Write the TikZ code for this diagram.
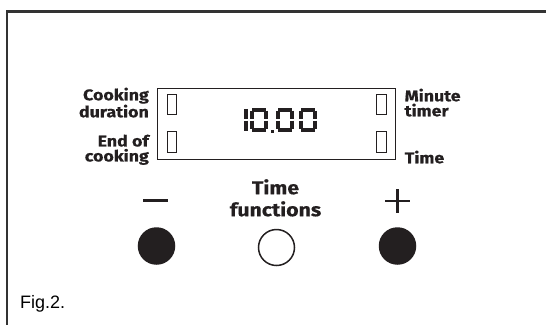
\documentclass[tikz,border=0pt]{standalone}
\usepackage{fontspec}
\newfontfamily\labfont{Fira Sans}[FakeStretch=1.15, FakeBold=0.5]
\newfontfamily\figfont{Liberation Sans}
\definecolor{ink}{HTML}{231F20}
\definecolor{framegray}{HTML}{333333}
\tikzset{
  lab/.style={font=\labfont\bfseries\fontsize{15.5}{15}\selectfont, text=ink, inner sep=0pt},
  smallbox/.style={draw=ink, line width=0.8pt, minimum width=9.5pt, minimum height=20.5pt, inner sep=0pt},
  seg/.style={line width=3.6pt, ink, line cap=butt},
  segzero/.pic={
    \draw[seg] (2.2,1.8) -- (15.8,1.8);
    \draw[seg] (2.2,22.2) -- (15.8,22.2);
    \draw[seg] (1.8,2.6) -- (1.8,11.3);
    \draw[seg] (1.8,12.7) -- (1.8,21.4);
    \draw[seg] (16.2,2.6) -- (16.2,11.3);
    \draw[seg] (16.2,12.7) -- (16.2,21.4);
  },
  button/.style={circle, minimum size=36pt, inner sep=0pt, line width=1.5pt, draw=ink}
}
\begin{document}
\begin{tikzpicture}[x=1pt,y=-1pt]
\useasboundingbox (0,0) rectangle (546,325);
% frame
\coordinate (ftr) at (546,11.5);
\coordinate (ftl) at (7,11.5);
\coordinate (fbl) at (7,325);
\draw[framegray, line width=2.2pt] (ftr) -- (ftl) -- (fbl);
% display
\node[draw=ink, line width=1.8pt, minimum width=238pt, minimum height=71pt, inner sep=0pt] (disp) at (276.5,124) {};
\node[smallbox] (b1) at (172,104.5) {};
\node[smallbox] (b2) at (172,142) {};
\node[smallbox] (b3) at (381.5,104.5) {};
\node[smallbox] (b4) at (381.5,142) {};
% digits 10.00
\coordinate (d1) at (246,108);
\draw[seg] (246,108.8) -- (246,119.3);
\draw[seg] (246,120.7) -- (246,131.2);
\pic at (250,108) {segzero};
\fill[ink] (271,129.5) rectangle (274,132.5);
\pic at (276,108) {segzero};
\pic at (299,108) {segzero};
% labels
\node[lab, align=right, anchor=north east] (cd) at (149,87.5) {Cooking\\duration};
\node[lab, align=right, anchor=north east] (ec) at (149,134.5) {End of\\cooking};
\node[lab, align=left, anchor=north west] (mt) at (404.5,88.5) {Minute\\timer};
\node[lab, align=left, anchor=north west] (tm) at (404.5,150.5) {Time};
\node[lab, align=center, anchor=north, font=\labfont\bfseries\fontsize{18.5}{22}\selectfont] (tf) at (275.5,179) {Time\\functions};
% buttons
\node[button, fill=ink] (minus) at (156.5,246) {};
\node[button, fill=white] (tfb) at (276.5,247.5) {};
\node[button, fill=ink] (plus) at (397.5,246) {};
% signs
\coordinate (m1) at (143,200);
\coordinate (m2) at (168,200);
\draw[ink, line width=3pt] (m1) -- (m2);
\coordinate (p1) at (385,201);
\coordinate (p2) at (410,201);
\coordinate (p3) at (397.5,189);
\coordinate (p4) at (397.5,213);
\draw[ink, line width=2.8pt] (p1) -- (p2) (p3) -- (p4);
% caption
\node[font=\figfont\fontsize{18}{20}\selectfont, anchor=base west, inner sep=0pt] (fig) at (20,308) {Fig.2.};
\end{tikzpicture}
\end{document}
